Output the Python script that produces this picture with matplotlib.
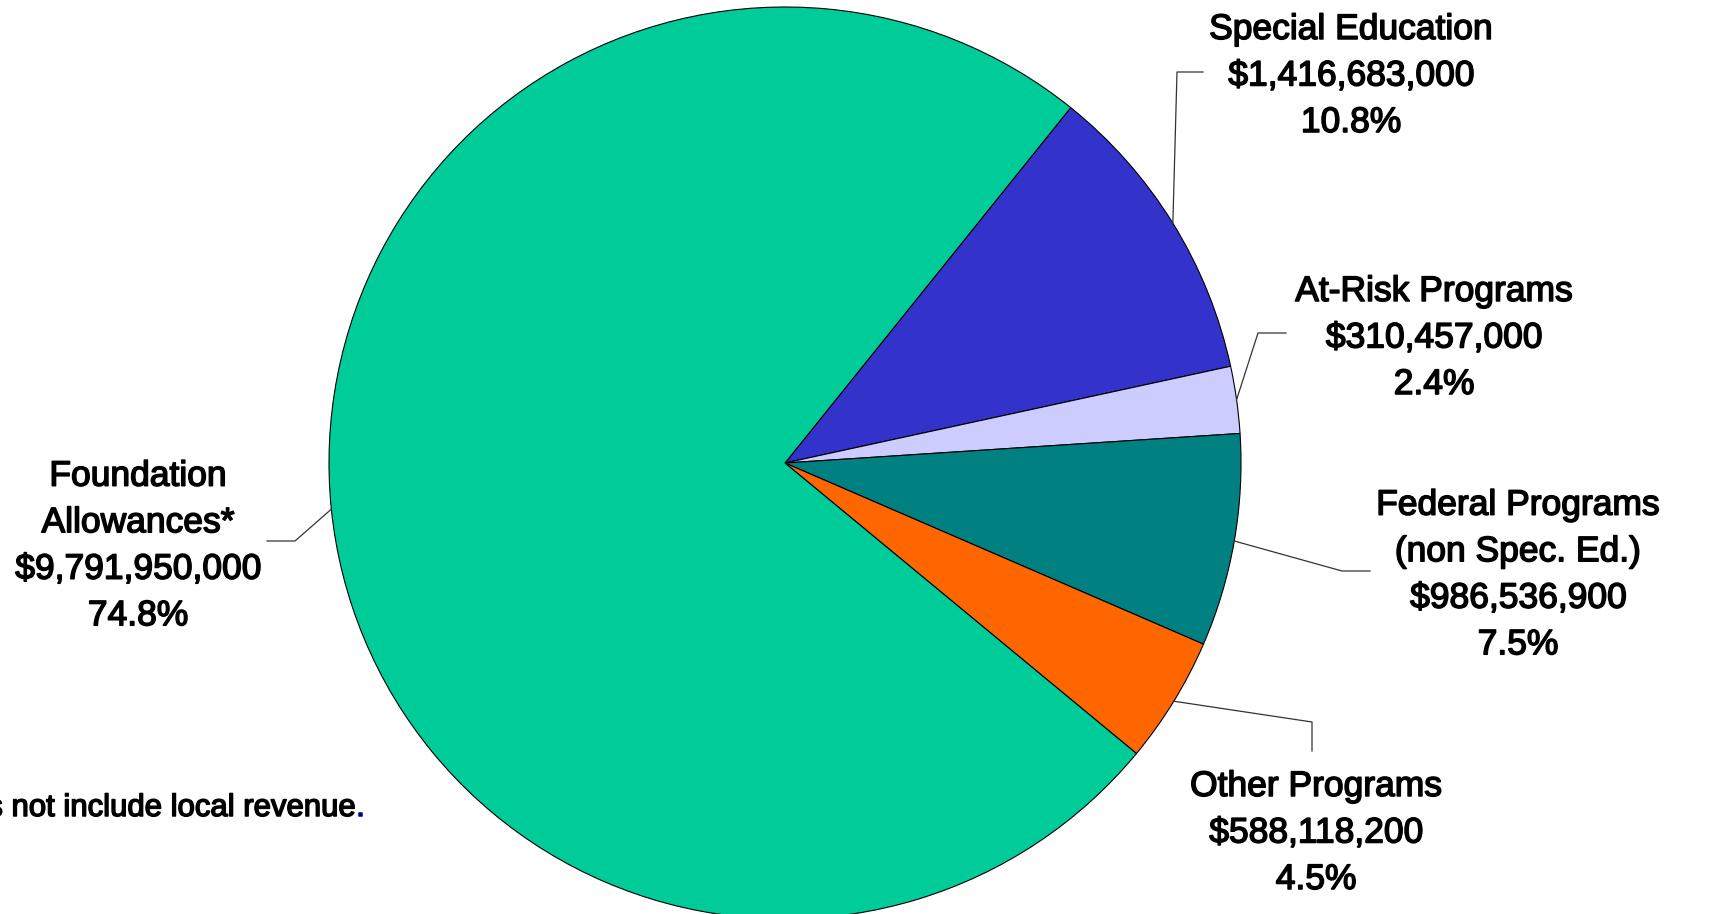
import numpy as np
import matplotlib.pyplot as plt
import matplotlib.patheffects as pe

# slices in drawing order (clockwise from the top-right edge)
names = ['Special Education', 'At-Risk Programs', 'Federal Programs\n(non Spec. Ed.)',
         'Other Programs', 'Foundation\nAllowances*']
amounts = [1416683000, 310457000, 986536900, 588118200, 9791950000]
colors = ['#3333CC', '#CCCCFF', '#008080', '#FF6600', '#00CC99']

W, H = 1710, 914
plt.rcParams['font.family'] = ['Liberation Sans', 'DejaVu Sans']

fig = plt.figure(figsize=(W / 100, H / 100), dpi=100)
ax = fig.add_axes([0, 0, 1, 1])

cx, cy, r = 785, H - 463, 456
wedges, _ = ax.pie(amounts, colors=colors, startangle=51.2, counterclock=False,
                   center=(cx, cy), radius=r,
                   wedgeprops=dict(edgecolor='black', linewidth=0.8))
ax.set_xlim(0, W)
ax.set_ylim(0, H)
ax.axis('off')

heavy = [pe.withStroke(linewidth=1.1, foreground='black')]

total = sum(amounts)
# label centre and leader bend / end points (pixel coords, y from top)
label_pos = [(1351, 76), (1434, 338), (1518, 575), (1316, 833), (138, 546)]
leaders = [[(1177, 72), (1203, 72)],
           [(1258, 333), (1286, 333)],
           [(1342, 571), (1370, 571)],
           [(1312, 722), (1312, 751)],
           [(295, 541), (267, 541)]]

for w, name, amt, (lx, ly), pts in zip(wedges, names, amounts, label_pos, leaders):
    txt = f"{name}\n${amt:,.0f}\n{amt / total * 100:.1f}%"
    ax.text(lx, H - ly, txt, ha='center', va='center', multialignment='center',
            fontsize=25.5, linespacing=1.52, color='black', path_effects=heavy)
    mid = np.deg2rad((w.theta1 + w.theta2) / 2)
    sx, sy = cx + r * np.cos(mid), cy + r * np.sin(mid)
    xs = [sx] + [p[0] for p in pts]
    ys = [sy] + [H - p[1] for p in pts]
    ax.plot(xs, ys, color='#333333', lw=0.9)

ax.text(356, H - 808, "*Does not include local revenue", ha='right', va='center',
        fontsize=22.4, color='black', path_effects=heavy)
ax.text(356, H - 808, ".", ha='left', va='center', fontsize=22.4,
        color='#000080', path_effects=[pe.withStroke(linewidth=1.1, foreground='#000080')])

fig.savefig('out.png', dpi=100)
